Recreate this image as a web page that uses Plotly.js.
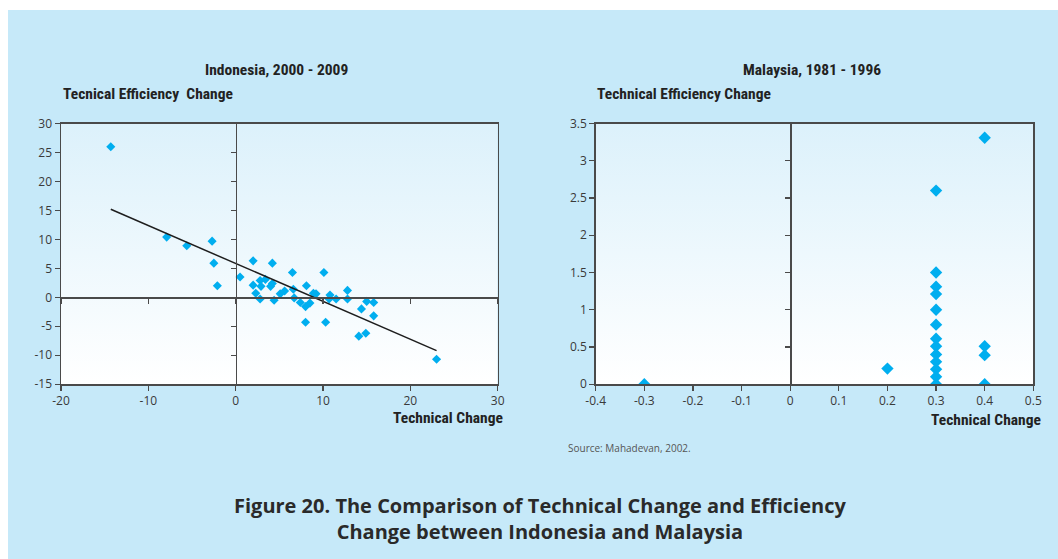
<!DOCTYPE html>
<html>
<head>
<meta charset="utf-8">
<script src="https://cdn.plot.ly/plotly-3.0.1.min.js"></script>
<style>
html,body{margin:0;padding:0;background:#fff;}
#chart{width:1058px;height:559px;}
</style>
</head>
<body>
<div id="chart"></div>
<script>
// ---- Data: Indonesia 2000-2009 ----
var indoTechChange = [-14.3, -7.9, -5.6, -2.7, -2.5, -2.1, 0.5, 2.0, 4.2, 6.5, 10.1, 2.0, 2.3, 2.8, 2.8, 3.4, 2.9, 4.0, 4.2, 4.4, 5.1, 5.6, 6.6, 6.7, 7.4, 8.1, 8.0, 8.5, 8.9, 9.2, 8.0, 10.3, 10.8, 10.7, 11.5, 12.8, 12.8, 14.4, 14.1, 14.9, 15.0, 15.8, 15.8, 23.0];
var indoEffChange  = [26.0, 10.4, 8.9, 9.7, 5.9, 2.0, 3.5, 6.3, 5.9, 4.3, 4.3, 2.1, 0.7, -0.3, 2.9, 3.1, 1.9, 1.9, 2.4, -0.5, 0.6, 1.1, 1.4, -0.1, -0.9, 2.0, -1.6, -1.0, 0.7, 0.6, -4.3, -4.3, 0.4, -0.3, -0.3, 1.2, -0.3, -2.0, -6.7, -6.2, -0.7, -0.9, -3.2, -10.7];
// linear trend line endpoints
var indoTrendX = [-14.3, 23.0];
var indoTrendY = [15.2, -9.2];

// ---- Data: Malaysia 1981-1996 ----
var malayTechChange = [-0.3, 0.2, 0.3, 0.3, 0.3, 0.3, 0.3, 0.3, 0.3, 0.3, 0.3, 0.3, 0.3, 0.3, 0.3, 0.4, 0.4, 0.4, 0.4];
var malayEffChange  = [0.0, 0.21, 2.6, 1.5, 1.31, 1.21, 1.0, 0.8, 0.61, 0.51, 0.4, 0.3, 0.2, 0.1, 0.0, 3.31, 0.51, 0.39, 0.0];

// ---- Tick labels ----
var indoXTicks = [-20, -10, 0, 10, 20, 30];
var indoXTickText = ['-20', '-10', '0', '10', '20', '30'];
var indoYTicks = [-15, -10, -5, 0, 5, 10, 15, 20, 25, 30];
var indoYTickText = ['-15', '-10', '-5', '0', '5', '10', '15', '20', '25', '30'];
var malayXTicks = [-0.4, -0.3, -0.2, -0.1, 0, 0.1, 0.2, 0.3, 0.4, 0.5];
var malayXTickText = ['-0.4', '-0.3', '-0.2', '-0.1', '0', '0.1', '0.2', '0.3', '0.4', '0.5'];
var malayYTicks = [0, 0.5, 1, 1.5, 2, 2.5, 3, 3.5];
var malayYTickText = ['0', '0.5', '1', '1.5', '2', '2.5', '3', '3.5'];

// ---- Layout helpers ----
var W = 1058, H = 559;
function px(x){ return x / W; }
function py(y){ return 1 - y / H; }
var xDomL = [px(61), px(497.7)];
var xDomR = [px(595.7), px(1033.3)];
var yDom = [py(384.2), py(123.6)];
var xRangeL = [-20, 30], yRangeL = [-15, 30];
var xRangeR = [-0.4, 0.5], yRangeR = [0, 3.5];
function frac(v, r, d){ return d[0] + (v - r[0]) / (r[1] - r[0]) * (d[1] - d[0]); }

var axisColor = '#4a4a4a';
var tickFont = {family: 'Open Sans, Noto Sans, sans-serif', size: 12, color: '#3a3a3a'};
var titleFont = {family: 'Liberation Sans Narrow, Roboto Condensed, Arial Narrow, sans-serif', size: 15.5, color: '#222', weight: 'bold'};
var markerColor = '#00aeef';

function baseAxis(extra){
  var a = {showgrid: false, zeroline: false, showline: true, linecolor: axisColor, linewidth: 1.5,
    mirror: true, ticks: 'outside', ticklen: 5, tickwidth: 1.2, tickcolor: axisColor,
    tickfont: tickFont, fixedrange: true};
  for (var k in extra) a[k] = extra[k];
  return a;
}

var gradSvg = '<svg xmlns="http://www.w3.org/2000/svg" width="10" height="100" preserveAspectRatio="none">' +
  '<defs><linearGradient id="g" x1="0" y1="0" x2="0" y2="1">' +
  '<stop offset="0" stop-color="#dcf1fb"/><stop offset="1" stop-color="#ffffff"/></linearGradient></defs>' +
  '<rect width="10" height="100" fill="url(#g)"/></svg>';
var gradSrc = 'data:image/svg+xml;charset=utf-8,' + encodeURIComponent(gradSvg);

var traces = [
  {x: indoTechChange, y: indoEffChange, xaxis: 'x', yaxis: 'y', type: 'scatter', mode: 'markers',
   marker: {symbol: 'diamond', size: 7, color: markerColor}, hoverinfo: 'x+y'},
  {x: indoTrendX, y: indoTrendY, xaxis: 'x', yaxis: 'y', type: 'scatter', mode: 'lines',
   line: {color: '#1e1e1e', width: 1.5}, hoverinfo: 'skip'},
  {x: malayTechChange, y: malayEffChange, xaxis: 'x2', yaxis: 'y2', type: 'scatter', mode: 'markers',
   marker: {symbol: 'diamond', size: 9.5, color: markerColor}, hoverinfo: 'x+y'},
  // empty traces to register the zero-crossing axes
  {x: [], y: [], xaxis: 'x3', yaxis: 'y3', type: 'scatter', mode: 'markers', showlegend: false},
  {x: [], y: [], xaxis: 'x4', yaxis: 'y4', type: 'scatter', mode: 'markers', showlegend: false}
];

var layout = {
  width: W, height: H,
  margin: {l: 0, r: 0, t: 0, b: 0},
  paper_bgcolor: '#c6e9f9',
  plot_bgcolor: 'rgba(0,0,0,0)',
  showlegend: false,
  xaxis: baseAxis({domain: xDomL, range: xRangeL, anchor: 'y', tickvals: indoXTicks, ticktext: indoXTickText}),
  yaxis: baseAxis({domain: yDom, range: yRangeL, anchor: 'x', tickvals: indoYTicks, ticktext: indoYTickText}),
  xaxis2: baseAxis({domain: xDomR, range: xRangeR, anchor: 'y2', tickvals: malayXTicks, ticktext: malayXTickText}),
  yaxis2: baseAxis({domain: yDom, range: yRangeR, anchor: 'x2', tickvals: malayYTicks, ticktext: malayYTickText}),
  // axes crossing at zero (Indonesia)
  xaxis3: baseAxis({overlaying: 'x', anchor: 'free', position: frac(0, yRangeL, yDom), range: xRangeL,
    mirror: false, tickvals: indoXTicks, showticklabels: false}),
  yaxis3: baseAxis({overlaying: 'y', anchor: 'free', position: frac(0, xRangeL, xDomL), range: yRangeL,
    mirror: false, tickvals: indoYTicks, showticklabels: false}),
  // axis crossing at zero (Malaysia)
  xaxis4: baseAxis({overlaying: 'x2', anchor: 'free', position: yDom[0], range: xRangeR,
    mirror: false, showline: false, ticks: '', showticklabels: false}),
  yaxis4: baseAxis({overlaying: 'y2', anchor: 'free', position: frac(0, xRangeR, xDomR), range: yRangeR,
    mirror: false, tickvals: malayYTicks, showticklabels: false}),
  images: [
    {source: gradSrc, xref: 'x domain', yref: 'y domain', x: 0, y: 1, sizex: 1, sizey: 1,
     xanchor: 'left', yanchor: 'top', sizing: 'stretch', layer: 'below'},
    {source: gradSrc, xref: 'x2 domain', yref: 'y2 domain', x: 0, y: 1, sizex: 1, sizey: 1,
     xanchor: 'left', yanchor: 'top', sizing: 'stretch', layer: 'below'}
  ],
  shapes: [
    // white page margins around the blue panel
    {type: 'rect', xref: 'paper', yref: 'paper', x0: 0, x1: 1, y0: py(10), y1: 1, fillcolor: '#ffffff', line: {width: 0}, layer: 'below'},
    {type: 'rect', xref: 'paper', yref: 'paper', x0: 0, x1: px(8), y0: 0, y1: 1, fillcolor: '#ffffff', line: {width: 0}, layer: 'below'},
    // faint light-blue lines in the Indonesia panel
    {type: 'line', xref: 'x domain', yref: 'y', x0: 0, x1: 1, y0: 28.3, y1: 28.3, line: {color: '#bfe4f5', width: 1}, layer: 'below'},
    {type: 'line', xref: 'x domain', yref: 'y', x0: 0, x1: 1, y0: 0.55, y1: 0.55, line: {color: '#a9dcf2', width: 1}, layer: 'below'}
  ],
  annotations: [
    {text: 'Indonesia, 2000 - 2009', xref: 'paper', yref: 'paper', x: px(276), y: py(70), xanchor: 'center', yanchor: 'middle', showarrow: false, font: titleFont},
    {text: 'Tecnical Efficiency\u00a0 Change', xref: 'paper', yref: 'paper', x: px(61), y: py(94), xanchor: 'left', yanchor: 'middle', showarrow: false, font: titleFont},
    {text: 'Technical Change', xref: 'paper', yref: 'paper', x: px(505), y: py(418), xanchor: 'right', yanchor: 'middle', showarrow: false, font: titleFont},
    {text: 'Malaysia, 1981 - 1996', xref: 'paper', yref: 'paper', x: px(812), y: py(70), xanchor: 'center', yanchor: 'middle', showarrow: false, font: titleFont},
    {text: 'Technical Efficiency Change', xref: 'paper', yref: 'paper', x: px(595), y: py(94), xanchor: 'left', yanchor: 'middle', showarrow: false, font: titleFont},
    {text: 'Technical Change', xref: 'paper', yref: 'paper', x: px(1043), y: py(420), xanchor: 'right', yanchor: 'middle', showarrow: false, font: titleFont},
    {text: 'Source: Mahadevan, 2002.', xref: 'paper', yref: 'paper', x: px(566), y: py(448), xanchor: 'left', yanchor: 'middle', showarrow: false,
     font: {family: 'Open Sans, Noto Sans, sans-serif', size: 10, color: '#555'}},
    {text: 'Figure 20. The Comparison of Technical Change and Efficiency<br>Change between Indonesia and Malaysia', xref: 'paper', yref: 'paper',
     x: px(540), y: py(518.5), xanchor: 'center', yanchor: 'middle', showarrow: false, align: 'center',
     font: {family: 'Open Sans, Noto Sans, sans-serif', size: 20, color: '#2a2a2a', weight: 'bold'}}
  ]
};

Plotly.newPlot('chart', traces, layout, {staticPlot: true, displayModeBar: false});
</script>
</body>
</html>
